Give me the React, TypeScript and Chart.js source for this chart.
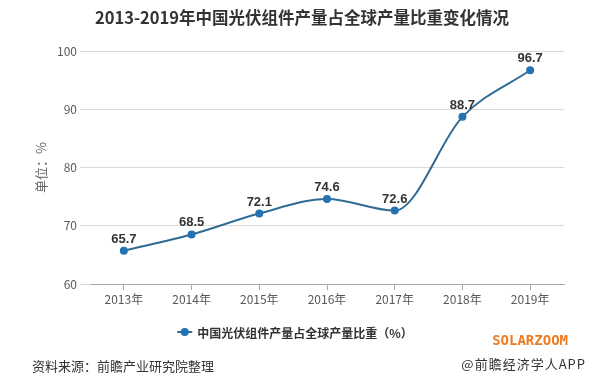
import React, { useEffect, useRef } from "react";
import { Chart, registerables } from "chart.js";

Chart.register(...registerables);

const titleText = "2013-2019年中国光伏组件产量占全球产量比重变化情况";
const categories = ["2013年", "2014年", "2015年", "2016年", "2017年", "2018年", "2019年"];
const shareValues = [65.7, 68.5, 72.1, 74.6, 72.6, 88.7, 96.7];
const seriesLabel = "中国光伏组件产量占全球产量比重（%）";
const yMin = 60;
const yMax = 100;
const yStep = 10;
const yAxisTitle = "单位：%";
const sourceText = "资料来源：前瞻产业研究院整理";
const creditText = "@前瞻经济学人APP";
const brandText = "SOLARZOOM";

const LINE_COLOR = "#2f6b95";
const POINT_COLOR = "#2472b2";
const CJK = "'Noto Sans CJK SC', 'Microsoft YaHei', sans-serif";

const valueLabelPlugin = {
  id: "valueLabels",
  afterDatasetsDraw(chart: any) {
    const ctx = chart.ctx;
    const meta = chart.getDatasetMeta(0);
    const data = chart.data.datasets[0].data as number[];
    ctx.save();
    ctx.font = "bold 13px 'Liberation Sans', Arial, sans-serif";
    ctx.fillStyle = "#333333";
    ctx.textAlign = "center";
    ctx.textBaseline = "alphabetic";
    meta.data.forEach((pt: any, i: number) => {
      ctx.fillText(Number(data[i]).toFixed(1), pt.x, pt.y - 8);
    });
    ctx.restore();
  },
};

const customLegendPlugin = {
  id: "customLegend",
  afterDraw(chart: any) {
    const ctx = chart.ctx;
    const label = chart.data.datasets[0].label as string;
    ctx.save();
    ctx.font = `bold 12px ${CJK}`;
    const tw = ctx.measureText(label).width;
    const markerW = 15;
    const gap = 5;
    const total = markerW + gap + tw;
    const x0 = (chart.width - total) / 2;
    const y = 332;
    ctx.strokeStyle = LINE_COLOR;
    ctx.lineWidth = 2;
    ctx.beginPath();
    ctx.moveTo(x0, y);
    ctx.lineTo(x0 + markerW, y);
    ctx.stroke();
    ctx.fillStyle = POINT_COLOR;
    ctx.beginPath();
    ctx.arc(x0 + markerW / 2, y, 4, 0, Math.PI * 2);
    ctx.fill();
    ctx.fillStyle = "#333333";
    ctx.textAlign = "left";
    ctx.textBaseline = "middle";
    ctx.fillText(label, x0 + markerW + gap, y + 1);
    ctx.restore();
  },
};

export default function App() {
  const canvasRef = useRef<HTMLCanvasElement | null>(null);

  useEffect(() => {
    if (!canvasRef.current) return;
    const chart = new Chart(canvasRef.current, {
      type: "line",
      data: {
        labels: categories,
        datasets: [
          {
            label: seriesLabel,
            data: shareValues,
            borderColor: LINE_COLOR,
            backgroundColor: POINT_COLOR,
            borderWidth: 2,
            cubicInterpolationMode: "monotone",
            pointRadius: 4,
            pointBackgroundColor: POINT_COLOR,
            pointBorderColor: POINT_COLOR,
            pointBorderWidth: 0,
            fill: false,
          },
        ],
      },
      options: {
        responsive: false,
        animation: false,
        devicePixelRatio: 1,
        layout: { padding: { top: 51, right: 26, bottom: 0, left: 0 } },
        plugins: {
          legend: { display: false },
          title: { display: false },
          tooltip: { enabled: false },
        },
        scales: {
          x: {
            offset: true,
            grid: {
              drawOnChartArea: false,
              drawTicks: true,
              tickLength: 6,
              color: "#a6a6a6",
              offset: false,
            },
            border: { display: true, color: "#a6a6a6", width: 1 },
            ticks: {
              color: "#595959",
              font: { size: 12, family: CJK },
              padding: 2,
              maxRotation: 0,
              autoSkip: false,
            },
            afterFit(scale: any) {
              scale.height = 90;
            },
          },
          y: {
            min: yMin,
            max: yMax,
            ticks: {
              stepSize: yStep,
              color: "#595959",
              font: { size: 12, family: CJK },
              padding: 3,
            },
            grid: {
              color: "#d9d9d9",
              lineWidth: 1,
              drawTicks: true,
              tickLength: 10,
              tickColor: "#d9d9d9",
            },
            border: { display: false },
            title: {
              display: true,
              text: yAxisTitle,
              color: "#666666",
              font: { size: 13, family: CJK },
              padding: { top: 33, bottom: 0 },
            },
            afterFit(scale: any) {
              scale.width = 90;
            },
          },
        },
      },
      plugins: [valueLabelPlugin, customLegendPlugin],
    });
    return () => chart.destroy();
  }, []);

  return (
    <div
      style={{
        position: "absolute",
        left: 0,
        top: 0,
        width: 590,
        height: 374,
        background: "#ffffff",
        overflow: "hidden",
      }}
    >
      <canvas ref={canvasRef} width={590} height={374} style={{ position: "absolute", left: 0, top: 0 }} />
      <div
        style={{
          position: "absolute",
          left: 7,
          top: 6,
          width: 590,
          textAlign: "center",
          fontFamily: CJK,
          fontWeight: "bold",
          fontSize: 16.5,
          lineHeight: "22px",
          color: "#333333",
          whiteSpace: "nowrap",
        }}
      >
        {titleText}
      </div>
      <div
        style={{
          position: "absolute",
          right: 22,
          top: 331,
          fontFamily: "'DejaVu Sans Mono', monospace",
          fontWeight: "bold",
          fontSize: 14,
          lineHeight: "18px",
          color: "#f07a1e",
          whiteSpace: "nowrap",
        }}
      >
        {brandText}
      </div>
      <div
        style={{
          position: "absolute",
          left: 32,
          top: 357,
          fontFamily: CJK,
          fontSize: 13,
          lineHeight: "18px",
          color: "#333333",
          whiteSpace: "nowrap",
        }}
      >
        {sourceText}
      </div>
      <div
        style={{
          position: "absolute",
          right: 4,
          top: 355,
          fontFamily: CJK,
          fontSize: 13,
          lineHeight: "18px",
          color: "#333333",
          letterSpacing: 1,
          whiteSpace: "nowrap",
        }}
      >
        {creditText}
      </div>
    </div>
  );
}
